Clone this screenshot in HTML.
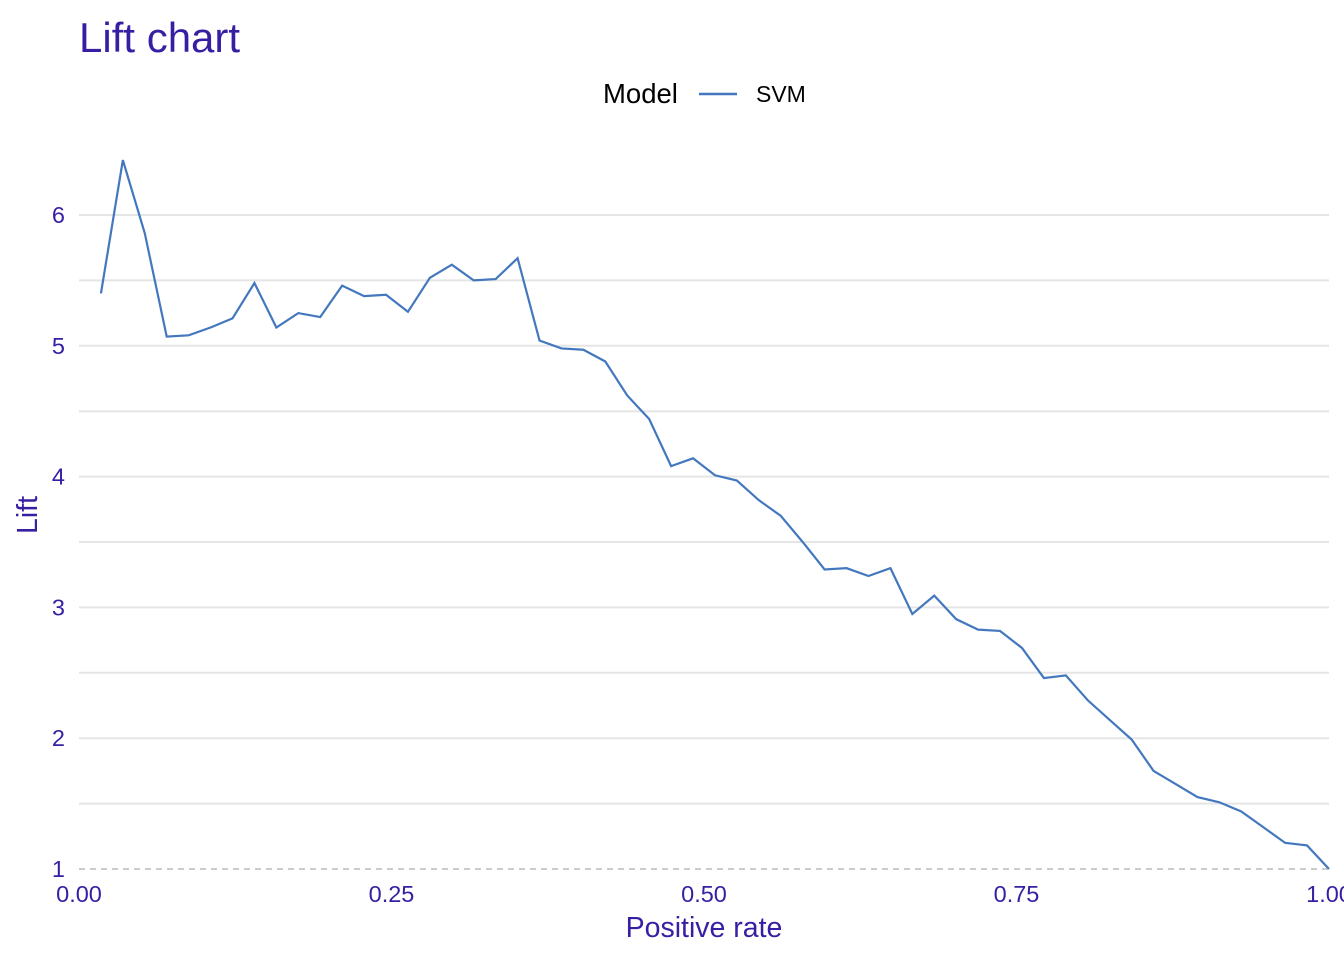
<!DOCTYPE html>
<html><head><meta charset="utf-8"><style>
body{margin:0;background:#fff}
text{font-family:"Liberation Sans",sans-serif}
</style></head><body>
<svg id="chart" width="1344" height="960" xmlns="http://www.w3.org/2000/svg">
<text x="79" y="52" font-size="42" fill="#371ea3">Lift chart</text>
<g>
<text x="603" y="103" font-size="27.5" fill="#000">Model</text>
<line x1="699" x2="737" y1="94" y2="94" stroke="#4378bf" stroke-width="2.5"/>
<text x="756" y="102" font-size="23" fill="#000">SVM</text>
</g>
<g id="grid"></g><g id="axes"></g><g id="series"></g>
<text x="704" y="937" font-size="28.5" fill="#371ea3" text-anchor="middle">Positive rate</text>
<text transform="translate(37,515) rotate(-90)" font-size="28.5" fill="#371ea3" text-anchor="middle">Lift</text>
</svg>
<script>
const lift=[5.40,6.42,5.86,5.07,5.08,5.14,5.21,5.48,5.14,5.25,5.22,5.46,5.38,5.39,5.26,5.52,5.62,5.50,5.51,5.67,5.04,4.98,4.97,4.88,4.62,4.44,4.08,4.14,4.01,3.97,3.82,3.70,3.50,3.29,3.30,3.24,3.30,2.95,3.09,2.91,2.83,2.82,2.69,2.46,2.48,2.29,2.14,1.99,1.75,1.65,1.55,1.51,1.44,1.32,1.20,1.18,1.00];
const yTicks=[1,2,3,4,5,6];
const xTicks=[0,0.25,0.5,0.75,1];
const xTickLabels=["0.00","0.25","0.50","0.75","1.00"];
const NS="http://www.w3.org/2000/svg";
const X=v=>79+v*1250, Y=v=>869-(v-1)*130.8;
function mk(t,a,p){const e=document.createElementNS(NS,t);for(const k in a)e.setAttribute(k,a[k]);document.getElementById(p).appendChild(e);return e;}
for(let v=1.5;v<=6.01;v+=0.5){
 const g=mk('line',{x1:79,x2:1329,y1:Y(v),y2:Y(v),stroke:'#e5e5e5','stroke-width':2},'grid');
 
 
}
const d=mk('line',{x1:79,x2:1329,y1:Y(1),y2:Y(1),stroke:'#bbb','stroke-width':1.5,'stroke-dasharray':'6,5'},'grid');


yTicks.forEach(v=>{const t=mk('text',{x:65,y:Y(v)+8,'font-size':23.5,fill:'#371ea3','text-anchor':'end'},'axes');t.textContent=v;
 
 });
xTicks.forEach((v,i)=>{const t=mk('text',{x:X(v),y:902,'font-size':23.5,fill:'#371ea3','text-anchor':'middle'},'axes');t.textContent=xTickLabels[i];
 
 });
const n=lift.length;
const pts=lift.map((v,i)=>X((i+1)/n)+','+Y(v)).join(' ');
const l=mk('polyline',{points:pts,fill:'none',stroke:'#4378bf','stroke-width':2.2},'series');


</script>
</body></html>
